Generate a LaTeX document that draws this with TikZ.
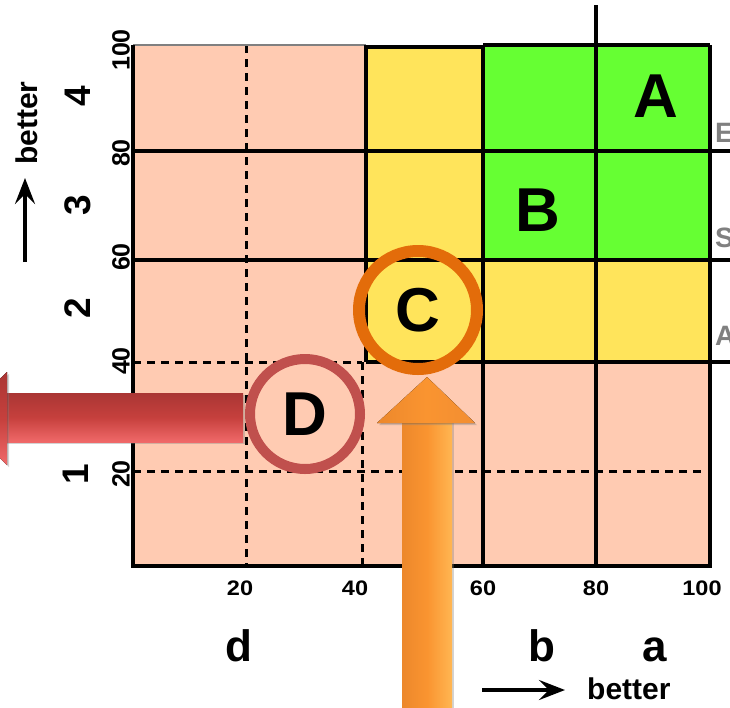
\documentclass[tikz,border=0pt]{standalone}
\usepackage{fontspec}
\setmainfont{Liberation Sans}
\usetikzlibrary{arrows.meta,shadows}
\definecolor{pinkc}{RGB}{255,203,178}
\definecolor{yellowc}{RGB}{255,228,91}
\definecolor{greenc}{RGB}{102,255,51}
\definecolor{ringorange}{RGB}{227,108,10}
\definecolor{ringred}{RGB}{192,80,77}
\definecolor{graytxt}{RGB}{128,128,128}
\definecolor{orA}{RGB}{236,136,44}
\definecolor{orB}{RGB}{250,148,48}
\definecolor{orC}{RGB}{255,182,82}
\definecolor{orH}{RGB}{242,142,50}
\definecolor{rdA}{RGB}{170,54,52}
\definecolor{rdB}{RGB}{198,64,61}
\definecolor{rdC}{RGB}{240,105,105}
\tikzset{
  gridline/.style={line width=3.2pt, black},
  dashline/.style={line width=3pt, black, dash pattern=on 8pt off 6pt},
  bigletter/.style={font=\bfseries\fontsize{62}{62}\selectfont, inner sep=0pt},
  ticky/.style={font=\bfseries\fontsize{25}{25}\selectfont, rotate=90, inner sep=0pt},
  tickx/.style={font=\bfseries\fontsize{21}{21}\selectfont, anchor=base, inner sep=0pt, xscale=1.12},
  levely/.style={font=\bfseries\fontsize{37}{37}\selectfont, rotate=90, inner sep=0pt},
  levelx/.style={font=\bfseries\fontsize{44}{44}\selectfont, anchor=base, inner sep=0pt},
  bettertxt/.style={font=\bfseries\fontsize{30}{30}\selectfont, inner sep=0pt},
  sidetxt/.style={font=\bfseries\fontsize{28}{28}\selectfont, text=graytxt, anchor=west, inner sep=0pt},
  betterarrow/.style={line width=4pt, -{Stealth[length=26pt,width=20pt,inset=10pt]}},
  fatarrow/.style={drop shadow={shadow xshift=2pt,shadow yshift=-2pt,opacity=.35}},
}
\begin{document}
\begin{tikzpicture}[x=1pt,y=-1pt]
\useasboundingbox (0,0) rectangle (730,707);
\clip (0,0) rectangle (730,707);
% fills
\fill[pinkc] (133,45) rectangle (710,566);
\fill[yellowc] (366,47) rectangle (483,362);
\fill[yellowc] (483,260) rectangle (710,362);
\fill[greenc] (483,45) rectangle (710,260);
% dashed lines
\draw[dashline] (246,45) -- (246,566);
\draw[dashline] (362,362) -- (362,566);
\draw[dashline] (133,362) -- (362,362);
\draw[dashline] (133,471) -- (705,471);
% solid lines
\draw[line width=1.5pt, gray] (133,45) -- (366,45);
\draw[gridline] (133,151) -- (730,151);
\draw[gridline] (133,260) -- (730,260);
\draw[gridline] (366,362) -- (730,362);
\draw[gridline] (366,362) -- (366,47) -- (483,47);
\draw[gridline] (483,45) -- (710,45);
\draw[gridline] (483,45) -- (483,566);
\draw[gridline] (596,5) -- (596,566);
\draw[gridline] (133,45) -- (133,566) -- (710,566) -- (710,45);
% letters in cells
\node[bigletter] (A) at (656,96) {A};
\node[bigletter] (B) at (538,210) {B};
% y tick labels
\node[ticky] (y100) at (121,50) {100};
\node[ticky] (y80) at (121,153) {80};
\node[ticky] (y60) at (121,257) {60};
\node[ticky] (y40) at (121,361) {40};
\node[ticky] (y20) at (121,474) {20};
% y levels
\node[levely] (l4) at (78,96) {4};
\node[levely] (l3) at (78,205) {3};
\node[levely] (l2) at (78,308) {2};
\node[levely] (l1) at (76,474) {1};
% left better
\node[bettertxt, rotate=90] (bl) at (27,123) {better};
\coordinate (blt) at (25,262);
\coordinate (blh) at (25,178);
\draw[betterarrow] (blt) -- (blh);
% x tick labels
\node[tickx] (x20) at (240,595) {20};
\node[tickx] (x40) at (355,595) {40};
\node[tickx] (x60) at (483,595) {60};
\node[tickx] (x80) at (596,595) {80};
\node[tickx] (x100) at (702,595) {100};
% x levels
\node[levelx] (ld) at (239,661) {d};
\node[levelx] (lc) at (414,661) {c};
\node[levelx] (lb) at (542,661) {b};
\node[levelx] (la) at (655,661) {a};
% bottom better
\node[bettertxt, anchor=west] (bb) at (587,689) {better};
\coordinate (bbt) at (482,690);
\coordinate (bbh) at (565,690);
\draw[betterarrow] (bbt) -- (bbh);
% side labels
\node[sidetxt] (sE) at (715,133) {E};
\node[sidetxt] (sS) at (715,238) {S};
\node[sidetxt] (sA) at (715,336) {A};
% circle D
\node[circle, draw=ringred, fill=pinkc, line width=10pt, minimum size=110pt, bigletter] (D) at (305,414) {D};
% circle C
\node[circle, draw=ringorange, line width=12pt, minimum size=118pt, bigletter] (C) at (418,310) {C};
% red arrow: body and head
\fill[fatarrow, top color=rdA, bottom color=rdC, middle color=rdB]
  (243,393) rectangle (5,442);
\fill[fatarrow, top color=rdA, bottom color=rdC, middle color=rdB]
  (7,372) -- (-41,418) -- (7,465) -- cycle;
% orange arrow: body and head
\fill[fatarrow, left color=orA, right color=orC, middle color=orB]
  (402,720) rectangle (452,421);
\fill[fatarrow, left color=orA, right color=orH, middle color=orB]
  (377,423) -- (427,377) -- (475,423) -- cycle;
\end{tikzpicture}
\end{document}
